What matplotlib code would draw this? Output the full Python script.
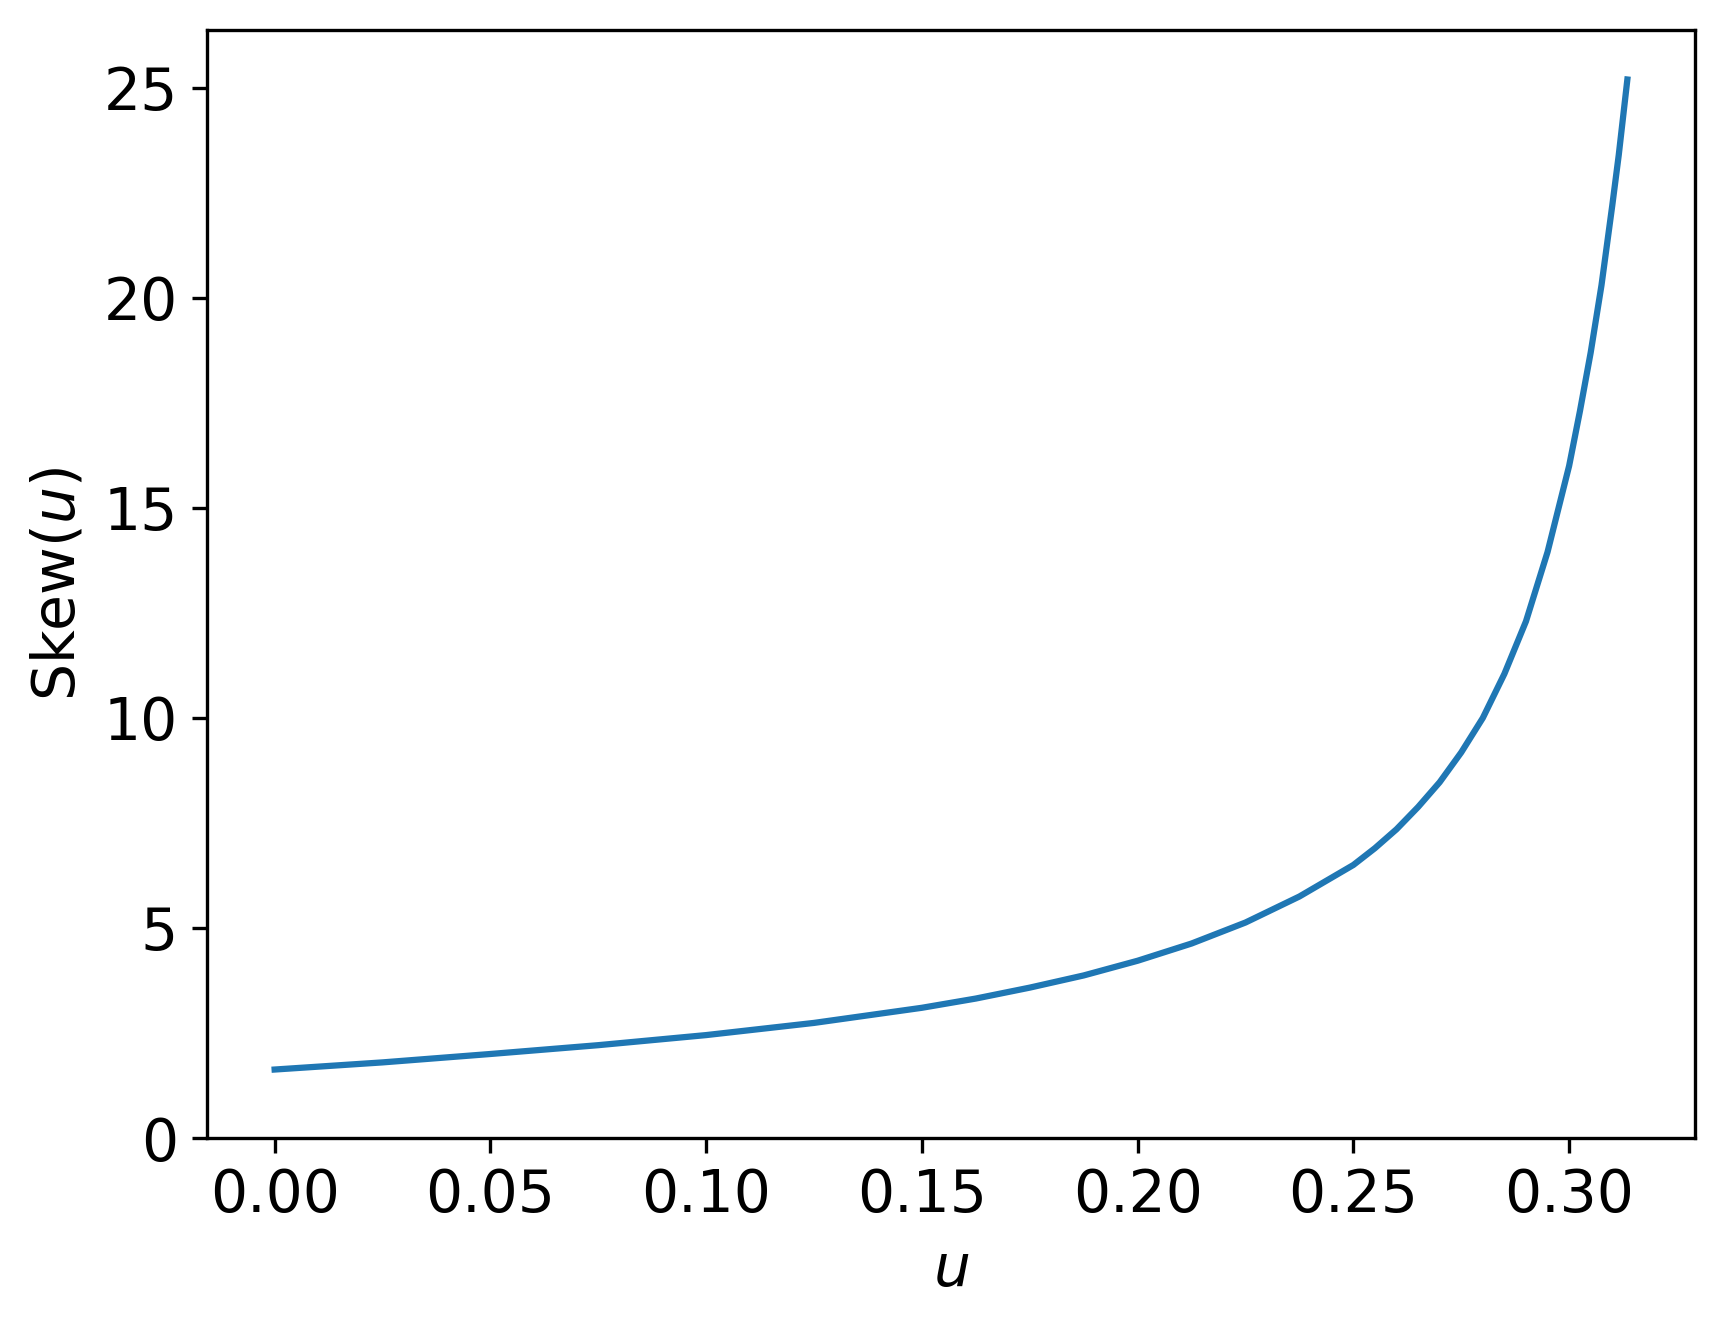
import matplotlib
matplotlib.use("Agg")
import matplotlib.pyplot as plt

# Значения (чаще там, где кривая круто растёт)
u_values = [0.0, 0.025, 0.05, 0.075, 0.10, 0.125, 0.15, 0.1625, 0.175, 0.1875,
            0.20, 0.2125, 0.225, 0.2375, 0.25, 0.255, 0.26, 0.265, 0.27, 0.275,
            0.28, 0.285, 0.29, 0.295, 0.30, 0.3025, 0.305, 0.3075, 0.31, 0.3115,
            0.3135]
skew_values = [1.63, 1.80, 2.00, 2.21, 2.45, 2.74, 3.10, 3.32, 3.58, 3.87,
               4.22, 4.63, 5.13, 5.75, 6.50, 6.90, 7.35, 7.88, 8.47, 9.18,
               10.0, 11.05, 12.3, 13.95, 16.0, 17.3, 18.7, 20.3, 22.2, 23.4,
               25.2]

plt.rcParams["font.size"] = 14

fig = plt.figure(figsize=(1725 / 300, 1328 / 300), dpi=300)
ax = fig.add_axes([207 / 1725, 190 / 1328, 1488 / 1725, 1108 / 1328])

ax.plot(u_values, skew_values, color="C0", linewidth=1.5)
ax.set_ylim(0, None)
ax.set_xlabel("$u$")
ax.set_ylabel("Skew($u$)")

fig.savefig("out.png", dpi=300)
